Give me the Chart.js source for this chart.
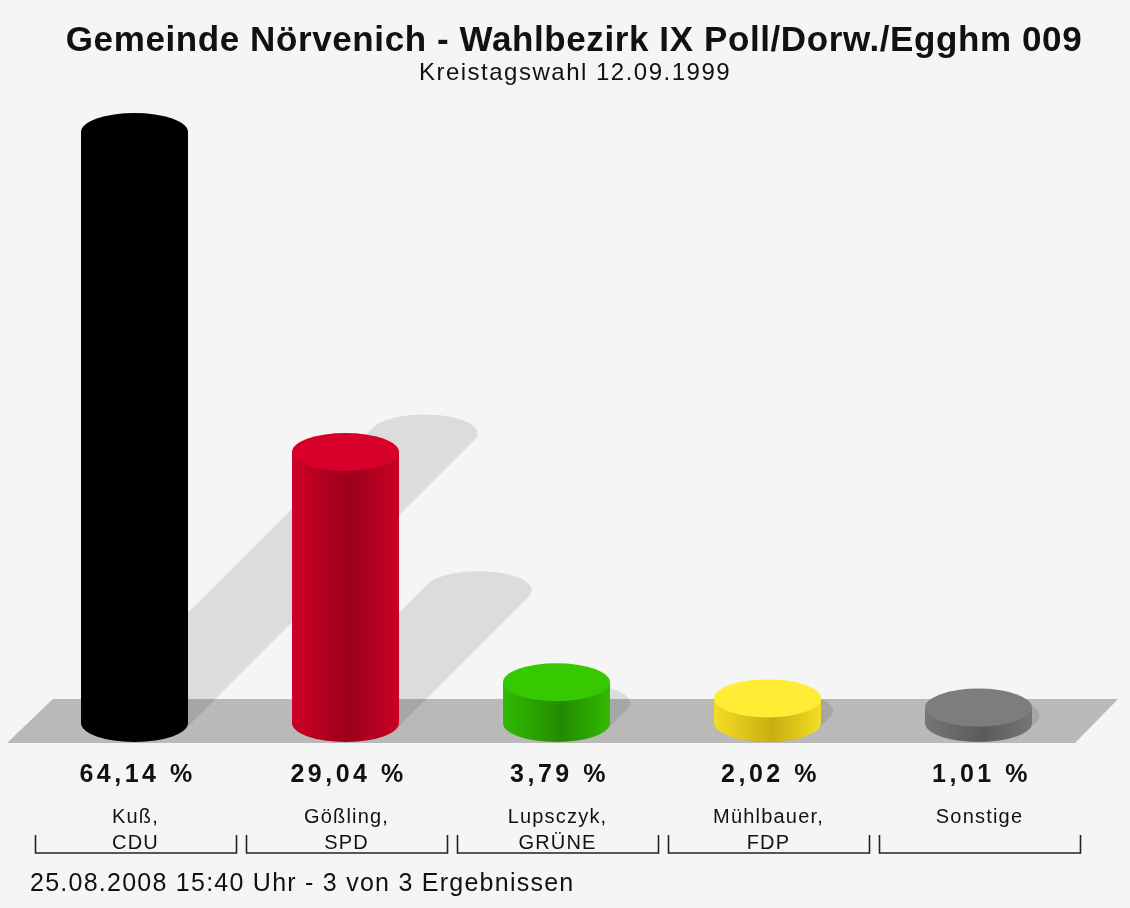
<!DOCTYPE html>
<html>
<head>
<meta charset="utf-8">
<script src="https://cdn.jsdelivr.net/npm/chart.js@4/dist/chart.umd.min.js"></script>
<style>
  html, body { margin: 0; padding: 0; background: #f5f5f5; }
  #wrap { width: 1130px; height: 908px; position: relative; }
</style>
</head>
<body>
<div id="wrap"><canvas id="wahlChart"></canvas></div>
<script>
// --- data ---
const titleText = 'Gemeinde Nörvenich - Wahlbezirk IX Poll/Dorw./Egghm 009';
const subtitleText = 'Kreistagswahl 12.09.1999';
const footerText = '25.08.2008 15:40 Uhr - 3 von 3 Ergebnissen';
const candidates = [['Kuß,', 'CDU'], ['Gößling,', 'SPD'], ['Lupsczyk,', 'GRÜNE'], ['Mühlbauer,', 'FDP'], ['Sonstige']];
const shares = [64.14, 29.04, 3.79, 2.02, 1.01];

// colours per party: [top, side light, side dark]
const partyColors = [
    ['#000000', '#000000', '#000000'],
    ['#d6002b', '#cc0025', '#9c001c'],
    ['#36c800', '#31bb00', '#248a00'],
    ['#ffec35', '#f4dd24', '#c9ae12'],
    ['#7d7d7d', '#767676', '#5b5b5b']
];

const FONT = '"Liberation Sans", Arial, Helvetica, sans-serif';
const CAP_RY = 19;   // half height of the cylinder ellipses
const SHADOW = 0.49; // shadow length relative to bar height

function fmtShare(v) {
    return v.toFixed(2).replace('.', ',') + ' %';
}

// --- cylinder drawing plugin ---
const cylinderPlugin = {
    id: 'cylinders',
    beforeDraw(chart) {
        const ctx = chart.ctx;
        ctx.save();
        ctx.fillStyle = '#f5f5f5';
        ctx.fillRect(0, 0, chart.width, chart.height);

        // grey floor
        const base = chart.chartArea.bottom;
        ctx.fillStyle = '#b9b9b9';
        ctx.beginPath();
        ctx.moveTo(53, base - 24);
        ctx.lineTo(1118, base - 24);
        ctx.lineTo(1075, base + 20);
        ctx.lineTo(7, base + 20);
        ctx.closePath();
        ctx.fill();
        ctx.restore();
    },
    beforeDatasetsDraw(chart) {
        const ctx = chart.ctx;
        const meta = chart.getDatasetMeta(0);
        ctx.save();
        ctx.fillStyle = 'rgba(0,0,0,0.1)';
        meta.data.forEach(bar => {
            const p = bar.getProps(['x', 'y', 'base', 'width'], true);
            const rx = p.width / 2, ry = CAP_RY;
            const h = p.base - p.y;
            const d = h * SHADOW;
            const t0 = Math.atan(ry / rx);
            ctx.beginPath();
            ctx.ellipse(p.x, p.base, rx, ry, 0, t0, t0 + Math.PI, false);
            ctx.ellipse(p.x + d, p.base - d, rx, ry, 0, t0 + Math.PI, t0 + 2 * Math.PI, false);
            ctx.closePath();
            ctx.fill();
        });
        ctx.restore();
    },
    afterDatasetsDraw(chart) {
        const ctx = chart.ctx;
        const meta = chart.getDatasetMeta(0);
        ctx.save();
        meta.data.forEach((bar, i) => {
            const p = bar.getProps(['x', 'y', 'base', 'width'], true);
            const rx = p.width / 2, ry = CAP_RY;
            const c = partyColors[i];

            // side
            const g = ctx.createLinearGradient(p.x - rx, 0, p.x + rx, 0);
            g.addColorStop(0, c[1]);
            g.addColorStop(0.55, c[2]);
            g.addColorStop(1, c[1]);
            ctx.fillStyle = g;
            ctx.beginPath();
            ctx.moveTo(p.x - rx, p.y);
            ctx.lineTo(p.x - rx, p.base);
            ctx.ellipse(p.x, p.base, rx, ry, 0, Math.PI, 0, true);
            ctx.lineTo(p.x + rx, p.y);
            ctx.closePath();
            ctx.fill();

            // top face
            ctx.fillStyle = c[0];
            ctx.beginPath();
            ctx.ellipse(p.x, p.y, rx, ry, 0, 0, 2 * Math.PI);
            ctx.fill();
        });
        ctx.restore();
    },
    afterDraw(chart) {
        const ctx = chart.ctx;
        const xScale = chart.scales.x;
        const half = (xScale.getPixelForValue(1) - xScale.getPixelForValue(0)) / 2;
        ctx.save();
        ctx.fillStyle = '#111';
        ctx.textAlign = 'center';
        ctx.textBaseline = 'middle';

        ctx.font = 'bold 35px ' + FONT;
        ctx.letterSpacing = '0.6px';
        ctx.fillText(titleText, 574, 41);
        ctx.font = '24px ' + FONT;
        ctx.letterSpacing = '1.5px';
        ctx.fillText(subtitleText, 575, 73);

        shares.forEach((v, i) => {
            const x = xScale.getPixelForValue(i);
            ctx.font = 'bold 25px ' + FONT;
            ctx.letterSpacing = '3.5px';
            ctx.fillText(fmtShare(v), x + 3, 775);
            ctx.letterSpacing = '1.2px';
            ctx.font = '20px ' + FONT;
            candidates[i].forEach((line, j) => {
                ctx.fillText(line, x + 1, 817 + j * 26);
            });

            // bracket under each category
            const l = Math.round(x - half + 6) + 0.5;
            const r = Math.round(x + half - 4) + 0.5;
            ctx.strokeStyle = '#222';
            ctx.lineWidth = 1.6;
            ctx.beginPath();
            ctx.moveTo(l, 835);
            ctx.lineTo(l, 853);
            ctx.lineTo(r, 853);
            ctx.lineTo(r, 835);
            ctx.stroke();
        });

        ctx.textAlign = 'left';
        ctx.font = '25px ' + FONT;
        ctx.letterSpacing = '1.25px';
        ctx.fillText(footerText, 30, 884);
        ctx.restore();
    }
};

new Chart(document.getElementById('wahlChart'), {
    type: 'bar',
    data: {
        labels: candidates,
        datasets: [{
            data: shares,
            base: -0.68,
            backgroundColor: 'rgba(0,0,0,0)',
            borderWidth: 0,
            barPercentage: 1,
            categoryPercentage: 0.507
        }]
    },
    options: {
        responsive: true,
        maintainAspectRatio: false,
        animation: false,
        layout: { padding: { left: 29, right: 46, top: 100, bottom: 185 } },
        plugins: {
            legend: { display: false },
            title: { display: false },
            tooltip: { enabled: false }
        },
        scales: {
            x: { display: false, offset: true },
            y: { display: false, min: -0.68, max: 67.65 }
        }
    },
    plugins: [cylinderPlugin]
});
</script>
</body>
</html>
